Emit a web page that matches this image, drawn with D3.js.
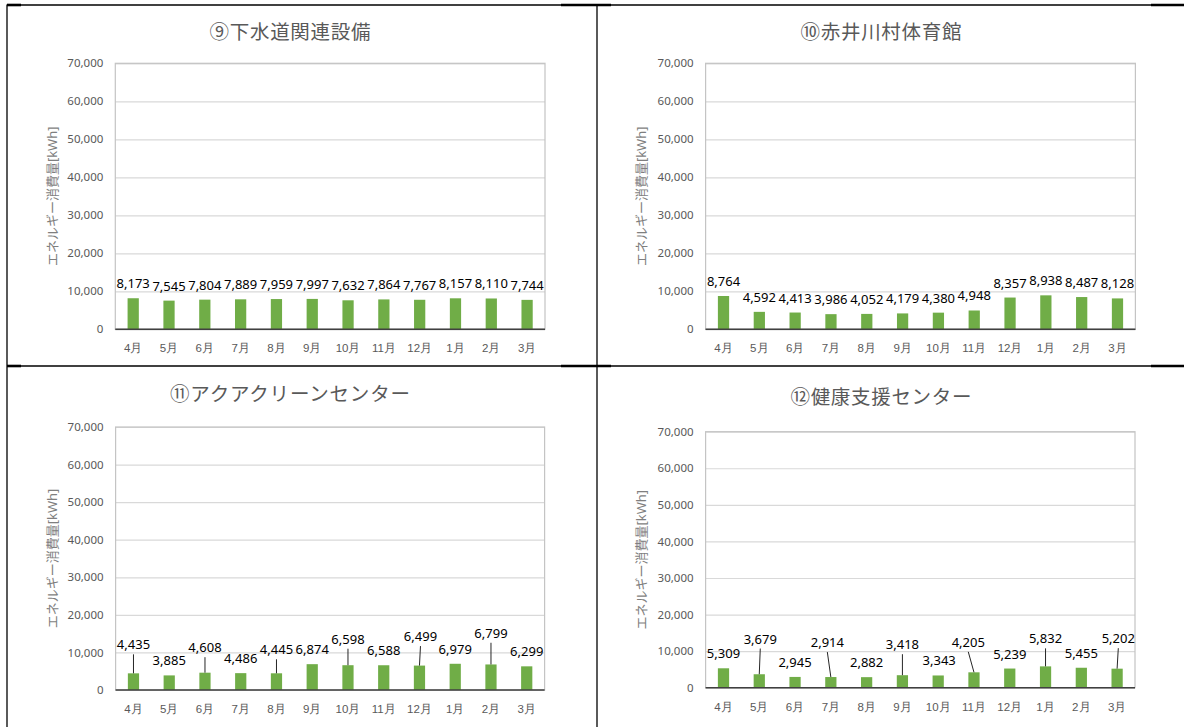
<!DOCTYPE html>
<html>
<head>
<meta charset="utf-8">
<script src="https://cdn.jsdelivr.net/npm/d3@7"></script>
<style>
  body { margin: 0; background: #fff; }
  svg { display: block; font-family: "Noto Sans", "Noto Sans CJK JP", sans-serif; }
</style>
</head>
<body>
<div id="chart"></div>
<script>
// values, kWh per month
var months = ["4月", "5月", "6月", "7月", "8月", "9月", "10月", "11月", "12月", "1月", "2月", "3月"];
var yTicks = [0, 10000, 20000, 30000, 40000, 50000, 60000, 70000];
var yTitle = "エネルギー消費量[kWh]";

var titles = ["⑨下水道関連設備", "⑩赤井川村体育館", "⑪アクアクリーンセンター", "⑫健康支援センター"];
var sewerValues  = [8173, 7545, 7804, 7889, 7959, 7997, 7632, 7864, 7767, 8157, 8110, 7744];
var gymValues    = [8764, 4592, 4413, 3986, 4052, 4179, 4380, 4948, 8357, 8938, 8487, 8128];
var aquaValues   = [4435, 3885, 4608, 4486, 4445, 6874, 6598, 6588, 6499, 6979, 6799, 6299];
var healthValues = [5309, 3679, 2945, 2914, 2882, 3418, 3343, 4205, 5239, 5832, 5455, 5202];

// label nudges (px) where the original labels were pulled up with leader lines
var zeros = [0, 0, 0, 0, 0, 0, 0, 0, 0, 0, 0, 0];
var aquaLift   = [14, 0, 10.5, 0, 9, 0, 11.5, 0, 14.5, 0, 16.7, 0];
var aquaDx     = [0, 0, 0, 0, 0, 0, 0, 0, 1, 0, 0, 0];
var healthLift = [0, 20.7, 0, 20, 0, 16, 0, 15.5, 0, 13, 0, 15.5];
var healthDx   = [0, 1, 0, -3.5, 0, 0, 1, -5.7, 0, 0, 0, 1.2];

var W = 1184, H = 727;
var svg = d3.select("#chart").append("svg")
    .attr("width", W)
    .attr("height", H);

// table frame
var thin = [[7, 4.5, 7, H], [597, 4.5, 597, H], [7, 5, W, 5], [7, 366, W, 366]];
svg.selectAll("line.frame").data(thin).enter().append("line")
    .attr("class", "frame")
    .attr("x1", function(d) { return d[0]; }).attr("y1", function(d) { return d[1]; })
    .attr("x2", function(d) { return d[2]; }).attr("y2", function(d) { return d[3]; })
    .attr("stroke", "#000").attr("stroke-width", 1.3);
var thick = [];
[5, 366].forEach(function(y) {
  [[7, 21], [561, 611], [1151, 1184]].forEach(function(s) { thick.push([s[0], y, s[1], y]); });
});
svg.selectAll("line.thick").data(thick).enter().append("line")
    .attr("class", "thick")
    .attr("x1", function(d) { return d[0]; }).attr("y1", function(d) { return d[1]; })
    .attr("x2", function(d) { return d[2]; }).attr("y2", function(d) { return d[3]; })
    .attr("stroke", "#000").attr("stroke-width", 2.6);

var panels = [
  {title: titles[0], values: sewerValues,  lift: zeros,      dx: zeros,    left: 115.3, right: 545,    top: 63.3,  bottom: 329.3, titleX: 290, titleY: 31.5, titleW: 161, yTitleX: 51.7},
  {title: titles[1], values: gymValues,    lift: zeros,      dx: zeros,    left: 705.6, right: 1135.4, top: 63.3,  bottom: 329.3, titleX: 881, titleY: 31.5, titleW: 161, yTitleX: 641},
  {title: titles[2], values: aquaValues,   lift: aquaLift,   dx: aquaDx,   left: 115.6, right: 544.6,  top: 427,   bottom: 690,   titleX: 290, titleY: 393,  titleW: 240, yTitleX: 51.7},
  {title: titles[3], values: healthValues, lift: healthLift, dx: healthDx, left: 705.6, right: 1135,   top: 431.7, bottom: 687.7, titleX: 881, titleY: 396.5, titleW: 181, yTitleX: 641}
];

panels.forEach(function(p) {
  var g = svg.append("g");

  var x = d3.scaleBand()
      .domain(months)
      .range([p.left, p.right])
      .paddingInner(0.686)
      .paddingOuter(0.343);
  var y = d3.scaleLinear()
      .domain([0, 70000])
      .range([p.bottom, p.top]);

  // title
  g.append("text")
      .attr("x", p.titleX)
      .attr("y", p.titleY)
      .attr("text-anchor", "middle")
      .attr("dominant-baseline", "central")
      .attr("fill", "#595959")
      .attr("textLength", p.titleW)
      .attr("lengthAdjust", "spacing")
      .style("font-size", "19.5px")
      .text(p.title);

  // gridlines + y tick labels
  var yAxis = g.append("g")
      .attr("transform", "translate(" + p.left + ",0)")
      .call(d3.axisLeft(y)
        .tickValues(yTicks)
        .tickSize(-(p.right - p.left))
        .tickPadding(12)
        .tickFormat(d3.format(",")));
  yAxis.select(".domain").remove();
  yAxis.selectAll(".tick line").attr("stroke", "#d9d9d9").attr("stroke-width", 1.2);
  yAxis.selectAll(".tick text")
      .attr("fill", "#595959")
      .style("font-size", "11.5px")
      .style("font-family", "'Noto Sans', sans-serif");

  // plot frame
  g.append("rect")
      .attr("x", p.left).attr("y", p.top)
      .attr("width", p.right - p.left).attr("height", p.bottom - p.top)
      .attr("fill", "none")
      .attr("stroke", "#c4c4c4")
      .attr("stroke-width", 1.2);

  // x labels
  var xAxis = g.append("g")
      .attr("transform", "translate(0," + p.bottom + ")")
      .call(d3.axisBottom(x).tickSize(0).tickPadding(15));
  xAxis.select(".domain").remove();
  xAxis.selectAll(".tick text")
      .attr("fill", "#595959")
      .style("font-size", "11.5px");

  // y axis title
  g.append("text")
      .attr("transform", "translate(" + p.yTitleX + "," + ((p.top + p.bottom) / 2) + ") rotate(-90)")
      .attr("text-anchor", "middle")
      .attr("dominant-baseline", "central")
      .attr("fill", "#7f7f7f")
      .style("font-size", "13px")
      .text(yTitle);

  // bars
  g.selectAll("rect.bar")
      .data(p.values)
      .enter()
      .append("rect")
        .attr("class", "bar")
        .attr("x", function(d, i) { return x(months[i]); })
        .attr("y", function(d) { return y(d); })
        .attr("width", x.bandwidth())
        .attr("height", function(d) { return p.bottom - y(d); })
        .attr("fill", "#70ad47");

  // base axis line
  g.append("line")
      .attr("x1", p.left).attr("x2", p.right)
      .attr("y1", y(0)).attr("y2", y(0))
      .attr("stroke", "#404040")
      .attr("stroke-width", 1.5);

  // leader lines
  g.selectAll("line.leader")
      .data(p.values.map(function(v, i) { return {v: v, i: i}; }).filter(function(d) { return p.lift[d.i] > 5; }))
      .enter()
      .append("line")
        .attr("class", "leader")
        .attr("x1", function(d) { return x(months[d.i]) + x.bandwidth() / 2 + p.dx[d.i]; })
        .attr("y1", function(d) { return y(d.v) - 14.5 - p.lift[d.i] + 9.5; })
        .attr("x2", function(d) { return x(months[d.i]) + x.bandwidth() / 2; })
        .attr("y2", function(d) { return y(d.v); })
        .attr("stroke", "#262626")
        .attr("stroke-width", 1);

  // data labels
  g.selectAll("text.val")
      .data(p.values)
      .enter()
      .append("text")
        .attr("class", "val")
        .attr("x", function(d, i) { return x(months[i]) + x.bandwidth() / 2 + p.dx[i]; })
        .attr("y", function(d, i) { return y(d) - 10 - p.lift[i]; })
        .attr("text-anchor", "middle")
        .attr("fill", "#000")
        .style("font-size", "13px")
        .text(function(d) { return d3.format(",")(d); });
});
</script>
</body>
</html>
